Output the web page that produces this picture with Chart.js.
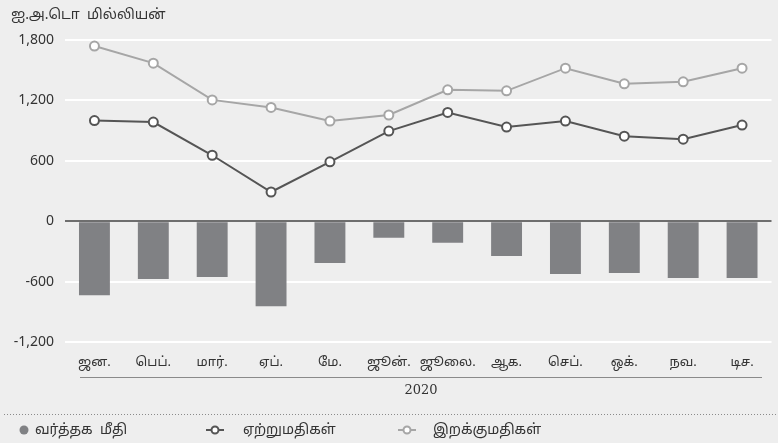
<!DOCTYPE html>
<html>
<head>
<meta charset="utf-8">
<script src="https://cdn.jsdelivr.net/npm/chart.js@4"></script>
<style>
  html, body { margin: 0; padding: 0; background: #eeeeee; }
  #wrap { width: 778px; height: 443px; }
</style>
</head>
<body>
<div id="wrap"><canvas id="chart" width="778" height="443"></canvas></div>
<script>
// data (US$ million, 2020)
const months = ['ஜன.', 'பெப்.', 'மார்.', 'ஏப்.', 'மே.', 'ஜூன்.', 'ஜூலை.', 'ஆக.', 'செப்.', 'ஒக்.', 'நவ.', 'டிச.']
const tradeBalance = [-735, -575, -555, -845, -415, -165, -215, -345, -525, -515, -565, -565]
const exportValues = [1000, 985, 655, 290, 590, 895, 1080, 935, 995, 845, 815, 955]
const importValues = [1740, 1570, 1205, 1130, 995, 1055, 1305, 1295, 1520, 1365, 1385, 1520]
const yTicks = [-1200, -600, 0, 600, 1200, 1800]
const unitLabel = 'ஐ.அ.டொ  மில்லியன்'
const yearLabel = '2020'
const seriesNames = ['வர்த்தக  மீதி', 'ஏற்றுமதிகள்', 'இறக்குமதிகள்']

const barColor = '#808184'
const darkLine = '#555555'
const lightLine = '#a6a6a6'
const tamilFont = '"Noto Sans", "Noto Sans Tamil", sans-serif'

// extra bits around the plot: unit label, year row, dotted rule, legend
const decorPlugin = {
  id: 'decor',
  afterDraw(chart) {
    const ctx = chart.ctx
    ctx.save()
    ctx.fillStyle = '#333'
    ctx.textBaseline = 'middle'
    ctx.font = '14px ' + tamilFont
    ctx.textAlign = 'left'
    ctx.fillText(unitLabel, 11, 15)

    // line between month labels and year
    ctx.strokeStyle = '#8a8a8a'
    ctx.lineWidth = 1
    ctx.beginPath()
    ctx.moveTo(80, 377.5)
    ctx.lineTo(762, 377.5)
    ctx.stroke()

    ctx.font = '13px "DejaVu Serif", serif'
    ctx.textAlign = 'center'
    ctx.fillText(yearLabel, (80 + 762) / 2, 391)

    // dotted separator
    ctx.fillStyle = '#8a8a8a'
    for (let x = 4; x < 778; x += 3) {
      ctx.fillRect(x, 414, 1, 1)
    }

    // legend
    const ly = 430
    ctx.fillStyle = barColor
    ctx.beginPath()
    ctx.arc(24, ly, 4.5, 0, Math.PI * 2)
    ctx.fill()

    const markers = [[215, darkLine], [407, lightLine]]
    markers.forEach(([mx, col]) => {
      ctx.strokeStyle = col
      ctx.lineWidth = 2
      ctx.beginPath()
      ctx.moveTo(mx - 9, ly)
      ctx.lineTo(mx + 9, ly)
      ctx.stroke()
      ctx.fillStyle = '#fff'
      ctx.beginPath()
      ctx.arc(mx, ly, 3.5, 0, Math.PI * 2)
      ctx.fill()
      ctx.stroke()
    })

    ctx.fillStyle = '#333'
    ctx.textAlign = 'left'
    ctx.font = '14px ' + tamilFont
    ctx.fillText(seriesNames[0], 35, ly)
    ctx.fillText(seriesNames[1], 243, ly)
    ctx.fillText(seriesNames[2], 433, ly)
    ctx.restore()
  }
}

const chartData = {
  labels: months,
  datasets: [
    {
      type: 'line',
      label: seriesNames[1],
      data: exportValues,
      borderColor: darkLine,
      borderWidth: 2,
      pointRadius: 4.5,
      pointBorderWidth: 2,
      pointBackgroundColor: '#ffffff',
      pointBorderColor: darkLine,
      tension: 0,
      order: 1
    },
    {
      type: 'line',
      label: seriesNames[2],
      data: importValues,
      borderColor: lightLine,
      borderWidth: 2,
      pointRadius: 4.5,
      pointBorderWidth: 2,
      pointBackgroundColor: '#ffffff',
      pointBorderColor: lightLine,
      tension: 0,
      order: 2
    },
    {
      type: 'bar',
      label: seriesNames[0],
      data: tradeBalance,
      backgroundColor: barColor,
      borderWidth: 0,
      categoryPercentage: 1,
      barPercentage: 0.525,
      order: 3
    }
  ]
}

const myChart = new Chart(document.getElementById('chart'), {
  data: chartData,
  options: {
    responsive: false,
    animation: false,
    layout: { padding: { left: 0, right: 3, top: 40, bottom: 0 } },
    plugins: {
      legend: { display: false },
      tooltip: { enabled: false }
    },
    scales: {
      x: {
        offset: true,
        grid: { display: false, drawTicks: false },
        border: { display: false },
        ticks: {
          color: '#333',
          padding: 12,
          maxRotation: 0,
          autoSkip: false,
          font: { size: 13, family: tamilFont }
        },
        afterFit: (scale) => { scale.height = 101 }
      },
      y: {
        min: -1200,
        max: 1800,
        afterBuildTicks: (scale) => { scale.ticks = yTicks.map(v => ({ value: v })) },
        grid: {
          drawTicks: false,
          lineWidth: 2,
          color: (c) => c.tick && c.tick.value === 0 ? '#6e6e6e' : '#ffffff'
        },
        border: { display: false },
        ticks: {
          color: '#333',
          padding: 11,
          font: { size: 14, family: '"Noto Sans", sans-serif' },
          callback: (v) => v.toLocaleString('en-US')
        },
        afterFit: (scale) => { scale.width = 65 }
      }
    }
  },
  plugins: [decorPlugin]
})
</script>
</body>
</html>
